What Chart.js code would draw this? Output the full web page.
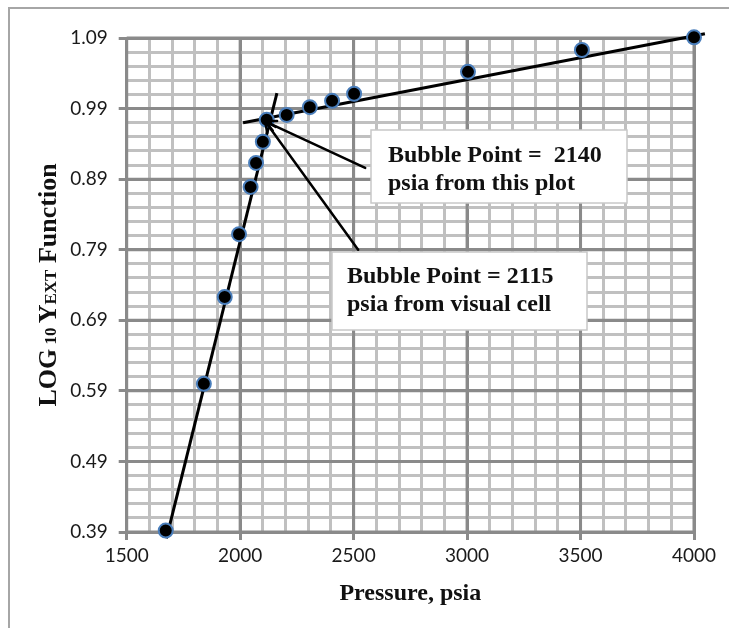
<!DOCTYPE html>
<html><head><meta charset="utf-8">
<script src="https://cdn.jsdelivr.net/npm/chart.js@4.4.0/dist/chart.umd.min.js"></script>
<style>html,body{margin:0;padding:0;background:#fff}#wrap{width:729px;height:628px;position:relative}</style>
</head><body><div id="wrap"><canvas id="c" width="729" height="628"></canvas></div>
<script>
// ---- data ----
const pressure = [1672, 1840, 1932, 1995, 2046, 2070, 2100, 2117, 2205, 2307, 2405, 2502, 3004, 3506, 4000];
const logYext  = [0.392, 0.600, 0.723, 0.812, 0.879, 0.913, 0.943, 0.974, 0.981, 0.992, 1.001, 1.011, 1.042, 1.073, 1.091];
const steepFitX = [1675, 2162];
const steepFitY = [0.381, 1.012];
const flatFitX = [2013, 4048];
const flatFitY = [0.970, 1.096];
const xTickLabels = ['1500','2000','2500','3000','3500','4000'];
const yTickLabels = ['0.39','0.49','0.59','0.69','0.79','0.89','0.99','1.09'];
const arrowTip = [2110, 0.972];
const arrowTails = [[2551, 0.906], [2520, 0.790]];
const noteLines = [["Bubble Point =  2140", "psia from this plot"], ["Bubble Point = 2115", "psia from visual cell"]];
const xTitle = "Pressure, psia";
const yTitleParts = [["LOG", true], [" 10 ", false], ["Y", true], ["EXT", false], [" Function", true]];

const MAJOR = '#8a8a8a', MINOR = '#c0c0c0';
const SERIF = '"Liberation Serif", "Times New Roman", serif';

const toPts = (xs, ys) => xs.map((x, i) => ({x, y: ys[i]}));

const decor = {
  id: 'decor',
  beforeDraw(chart) {
    const c = chart.ctx;
    c.save();
    c.fillStyle = '#fff';
    c.fillRect(0, 0, chart.width, chart.height);
    c.strokeStyle = '#a6a6a6';
    c.lineWidth = 2;
    c.strokeRect(9, 8, 760, 660);
    c.restore();
  },
  beforeDatasetsDraw(chart) {
    const c = chart.ctx, a = chart.chartArea, xs = chart.scales.x, ys = chart.scales.y;
    c.save();
    c.strokeStyle = MAJOR; c.lineWidth = 3;
    xs.ticks.forEach(t => { if (t.label) { const p = xs.getPixelForValue(t.value); c.beginPath(); c.moveTo(p, a.top); c.lineTo(p, a.bottom); c.stroke(); } });
    ys.ticks.forEach(t => { if (t.label) { const p = ys.getPixelForValue(t.value); c.beginPath(); c.moveTo(a.left, p); c.lineTo(a.right, p); c.stroke(); } });
    c.restore();
  },
  afterDatasetsDraw(chart) {
    const c = chart.ctx, xs = chart.scales.x, ys = chart.scales.y;
    c.save();
    const tx = xs.getPixelForValue(arrowTip[0]), ty = ys.getPixelForValue(arrowTip[1]);
    c.strokeStyle = '#000'; c.lineWidth = 2.5; c.lineCap = 'round';
    arrowTails.forEach(([vx, vy]) => {
      const sx = xs.getPixelForValue(vx), sy = ys.getPixelForValue(vy);
      c.beginPath(); c.moveTo(sx, sy); c.lineTo(tx, ty); c.stroke();
      const ang = Math.atan2(ty - sy, tx - sx), L = 12, w = 0.45;
      c.beginPath();
      c.moveTo(tx - L * Math.cos(ang - w), ty - L * Math.sin(ang - w));
      c.lineTo(tx, ty);
      c.lineTo(tx - L * Math.cos(ang + w), ty - L * Math.sin(ang + w));
      c.stroke();
    });
    const boxes = [
      {x: 371, y: 130, w: 256, h: 73, tx: 388, base: [162, 190]},
      {x: 332, y: 252, w: 255, h: 78, tx: 347, base: [283, 311]}
    ];
    boxes.forEach((b, i) => {
      c.fillStyle = '#fff'; c.fillRect(b.x, b.y, b.w, b.h);
      c.strokeStyle = '#c8c8c8'; c.lineWidth = 1.5; c.strokeRect(b.x, b.y, b.w, b.h);
      c.fillStyle = '#111'; c.font = 'bold 24px ' + SERIF; c.textBaseline = 'alphabetic'; c.textAlign = 'left';
      noteLines[i].forEach((t, j) => c.fillText(t, b.tx, b.base[j]));
    });
    c.restore();
  },
  afterDraw(chart) {
    const c = chart.ctx, a = chart.chartArea;
    c.save();
    c.fillStyle = '#111';
    c.font = 'bold 24px ' + SERIF; c.textAlign = 'center'; c.textBaseline = 'middle';
    c.fillText(xTitle, (a.left + a.right) / 2, 594);
    const big = 'bold 26px ' + SERIF, small = 'bold 17px ' + SERIF;
    let total = 0;
    yTitleParts.forEach(([t, b]) => { c.font = b ? big : small; total += c.measureText(t).width; });
    c.translate(47, (a.top + a.bottom) / 2);
    c.rotate(-Math.PI / 2);
    c.textAlign = 'left'; c.textBaseline = 'alphabetic';
    let u = -total / 2;
    yTitleParts.forEach(([t, b]) => { c.font = b ? big : small; c.fillText(t, u, 9); u += c.measureText(t).width; });
    c.restore();
  }
};

const isMajor = ctx => ctx.tick && ctx.tick.label !== '' && ctx.tick.label !== undefined;

new Chart(document.getElementById('c'), {
  type: 'scatter',
  data: {
    datasets: [
      {data: toPts(pressure, logYext), pointRadius: 7, pointBackgroundColor: '#000', pointBorderColor: '#4a7ebb', pointBorderWidth: 2, showLine: false, clip: false},
      {data: toPts(steepFitX, steepFitY), showLine: true, pointRadius: 0, borderColor: '#000', borderWidth: 3, clip: false},
      {data: toPts(flatFitX, flatFitY), showLine: true, pointRadius: 0, borderColor: '#000', borderWidth: 3, clip: false}
    ]
  },
  options: {
    responsive: false, animation: false, devicePixelRatio: 1,
    layout: {padding: {left: 0, top: 38, right: 35, bottom: 0}},
    plugins: {legend: {display: false}, tooltip: {enabled: false}},
    scales: {
      x: {
        type: 'linear', min: 1500, max: 4000,
        afterFit(s) { s.height = 96; },
        ticks: {stepSize: 100, maxTicksLimit: 1000, autoSkip: false, maxRotation: 0, padding: 4,
          color: '#1a1a1a', font: {family: 'Lato', size: 19},
          callback: v => { const s = String(Math.round(v)); return xTickLabels.includes(s) ? s : ''; }},
        grid: {color: ctx => isMajor(ctx) ? MAJOR : MINOR, lineWidth: 3, tickLength: 8,
          tickColor: ctx => isMajor(ctx) ? MAJOR : 'rgba(0,0,0,0)', tickWidth: 3},
        border: {color: MAJOR, width: 3}
      },
      y: {
        type: 'linear', min: 0.39, max: 1.09,
        afterFit(s) { s.width = 126.7; },
        ticks: {stepSize: 0.02, maxTicksLimit: 1000, autoSkip: false, padding: 11,
          color: '#1a1a1a', font: {family: 'Lato', size: 19},
          callback: v => { const s = (Math.round(v * 100) / 100).toFixed(2); return yTickLabels.includes(s) ? s : ''; }},
        grid: {color: ctx => isMajor(ctx) ? MAJOR : MINOR, lineWidth: 3, tickLength: 8,
          tickColor: ctx => isMajor(ctx) ? MAJOR : 'rgba(0,0,0,0)', tickWidth: 3},
        border: {color: MAJOR, width: 3}
      }
    }
  },
  plugins: [decor]
});
</script></body></html>
